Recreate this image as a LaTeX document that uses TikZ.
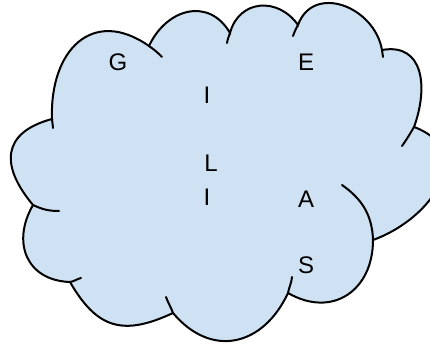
\documentclass[tikz,border=0pt]{standalone}
\usepackage{fontspec}
\setmainfont{Liberation Sans}
\definecolor{cloudblue}{RGB}{207,226,243}
\begin{document}
\begin{tikzpicture}[x=1pt, y=1pt,
    cloudline/.style={draw=black, line width=2pt, line cap=round},
    letter/.style={font=\fontsize{24}{28}\selectfont, inner sep=0pt}
]
\useasboundingbox (0,0) rectangle (430,345);
% cusps of the cloud, clockwise from the left
\coordinate (c1) at (52,226);
\coordinate (c2) at (149,299);
\coordinate (c3) at (230,312);
\coordinate (c4) at (298,320);
\coordinate (c5) at (382,295);
\coordinate (c6) at (414,218);
\coordinate (c7) at (373,105);
\coordinate (c8) at (288,52);
\coordinate (c9) at (173,32);
\coordinate (c10) at (70,63);
\coordinate (c11) at (33,140);

% outline
\path[cloudline, fill=cloudblue]
  (c11) to[out=130, in=195, looseness=1.5] (c1)
        to[out=92, in=145, looseness=1.45] (c2)
        to[out=65, in=120, looseness=1.3] (c3)
        to[out=75, in=125, looseness=1.3] (c4)
        to[out=70, in=100, looseness=1.3] (c5)
        to[out=10, in=70, looseness=1.3] (c6)
        to[out=-20, in=20, looseness=1.4] (c7)
        to[out=-90, in=-30, looseness=1.3] (c8)
        to[out=-115, in=-50, looseness=1.3] (c9)
        to[out=-155, in=-60, looseness=1.3] (c10)
        to[out=178, in=-120, looseness=1.3] (c11) -- cycle;

% inner hooks
\draw[cloudline] (c1) to[out=-85, in=95] (53,217);
\draw[cloudline] (c2) to[out=-35, in=135] (162,288);
\draw[cloudline] (c3) to[out=-110, in=80] (227,302);
\draw[cloudline] (c4) to[out=-120, in=70] (293,309);
\draw[cloudline] (c5) to[out=-80, in=95] (383,288);
\draw[cloudline] (c6) to[out=-120, in=55] (402,199);
\draw[cloudline] (342,160) to[out=-35, in=92] (c7);
\draw[cloudline] (c8) to[out=80, in=-95] (292,68);
\draw[cloudline] (c9) to[out=110, in=-70] (166,48);
\draw[cloudline] (c10) to[out=10, in=195] (81,67);
\draw[cloudline] (c11) to[out=-25, in=180] (59,134);

% letters
\node[letter] (g) at (118,283) {G};
\node[letter] (e) at (306,283) {E};
\node[letter] (i1) at (207,250) {I};
\node[letter] (l) at (211,182) {L};
\node[letter] (i2) at (207,148) {I};
\node[letter] (a) at (306,146) {A};
\node[letter] (s) at (306,80) {S};
\end{tikzpicture}
\end{document}
